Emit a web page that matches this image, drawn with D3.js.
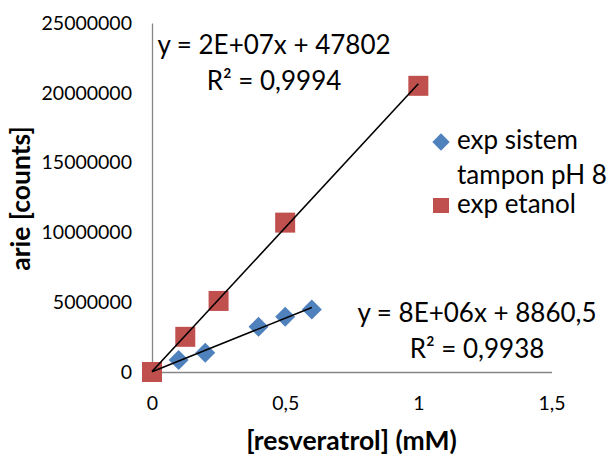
<!DOCTYPE html>
<html><head><meta charset="utf-8">
<script src="https://cdn.jsdelivr.net/npm/d3@7/dist/d3.min.js"></script>
<style>body{margin:0;background:#fff}svg{display:block}text{font-family:Lato,"Open Sans",sans-serif}</style>
</head><body><svg id="c" width="615" height="457"></svg>
<script>
// Data
const bufferX = [0, 0.1, 0.2, 0.4, 0.5, 0.6];
const bufferY = [0, 860000, 1380000, 3240000, 3950000, 4480000];
const ethanolX = [0, 0.125, 0.25, 0.5, 1];
const ethanolY = [0, 2520000, 5090000, 10700000, 20500000];
const legendLines = [["exp sistem", "tampon pH 8"], ["exp etanol"]];
const xTicks = [0, 0.5, 1, 1.5];
const yTicks = [0, 5000000, 10000000, 15000000, 20000000, 25000000];
const eqEthanol = ["y = 2E+07x + 47802", "R² = 0,9994"];
const eqBuffer = ["y = 8E+06x + 8860,5", "R² = 0,9938"];

const svg = d3.select("#c");
const x = d3.scaleLinear().domain([0, 1.5]).range([152, 551.5]);
const y = d3.scaleLinear().domain([0, 25000000]).range([372, 23]);

// axes
const gx = svg.append("g").attr("transform", `translate(0,${y(0)})`)
  .call(d3.axisBottom(x).tickValues(xTicks).tickSize(0).tickPadding(24).tickFormat(d => String(d).replace(".", ",")));
const gy = svg.append("g").attr("transform", `translate(${x(0)},0)`)
  .call(d3.axisLeft(y).tickValues(yTicks).tickSize(0).tickPadding(20).tickFormat(d => String(d)));
[gx, gy].forEach(g => {
  g.select(".domain").attr("stroke", "#868686").attr("stroke-width", 1.3);
  g.selectAll("text").attr("font-family", "Lato").attr("font-size", 19.5).attr("fill", "#000");
});

// regression (trendline from data)
function fit(xs, ys) {
  const n = xs.length, mx = d3.mean(xs), my = d3.mean(ys);
  let sxy = 0, sxx = 0;
  for (let i = 0; i < n; i++) { sxy += (xs[i]-mx)*(ys[i]-my); sxx += (xs[i]-mx)**2; }
  const b = sxy/sxx; return {b, a: my - b*mx};
}
function trend(xs, ys) {
  const f = fit(xs, ys); const x0 = d3.min(xs), x1 = d3.max(xs);
  svg.append("line").attr("x1", x(x0)).attr("y1", y(f.a + f.b*x0))
    .attr("x2", x(x1)).attr("y2", y(f.a + f.b*x1))
    .attr("stroke", "#000").attr("stroke-width", 1.6);
}

const blue = "#4F81BD", red = "#C0504D";
// buffer diamonds
svg.append("g").selectAll("path").data(bufferX.map((d,i)=>[d, bufferY[i]])).join("path")
  .attr("d", d3.symbol(d3.symbolSquare, 200)())
  .attr("transform", d => `translate(${x(d[0])},${y(d[1])}) rotate(45)`)
  .attr("fill", blue);
// ethanol squares
svg.append("g").selectAll("path").data(ethanolX.map((d,i)=>[d, ethanolY[i]])).join("path")
  .attr("d", d3.symbol(d3.symbolSquare, 400)())
  .attr("transform", d => `translate(${x(d[0])},${y(d[1])})`)
  .attr("fill", red);

trend(ethanolX, ethanolY);
trend(bufferX, bufferY);

// equations
function eq(lines, cx, y0) {
  const t = svg.append("text").attr("text-anchor", "middle").attr("font-size", 26).attr("fill", "#000");
  lines.forEach((l, i) => t.append("tspan").attr("x", cx).attr("y", y0 + i*36).text(l));
}
eq(eqEthanol, 274, 54);
eq(eqBuffer, 477, 322);

// legend
const lg = svg.append("g");
lg.append("path").attr("d", d3.symbol(d3.symbolSquare, 150)()).attr("transform", "translate(441,142) rotate(45)").attr("fill", blue);
lg.append("rect").attr("x", 433).attr("y", 198).attr("width", 16).attr("height", 15).attr("fill", red);
const lt = lg.append("text").attr("font-size", 26).attr("fill", "#000");
lt.append("tspan").attr("x", 457).attr("y", 149).text(legendLines[0][0]);
lt.append("tspan").attr("x", 457).attr("y", 184).text(legendLines[0][1]);
lg.append("text").attr("font-size", 26).attr("fill", "#000").attr("x", 457).attr("y", 213).text(legendLines[1][0]);

// titles
svg.append("text").attr("text-anchor", "middle").attr("font-weight", "bold").attr("font-size", 26.5)
  .attr("x", 351.5).attr("y", 450).text("[resveratrol] (mM)");
svg.append("text").attr("text-anchor", "middle").attr("font-weight", "bold").attr("font-size", 26.5)
  .attr("transform", "translate(30,198.5) rotate(-90)").text("arie [counts]");
</script></body></html>
